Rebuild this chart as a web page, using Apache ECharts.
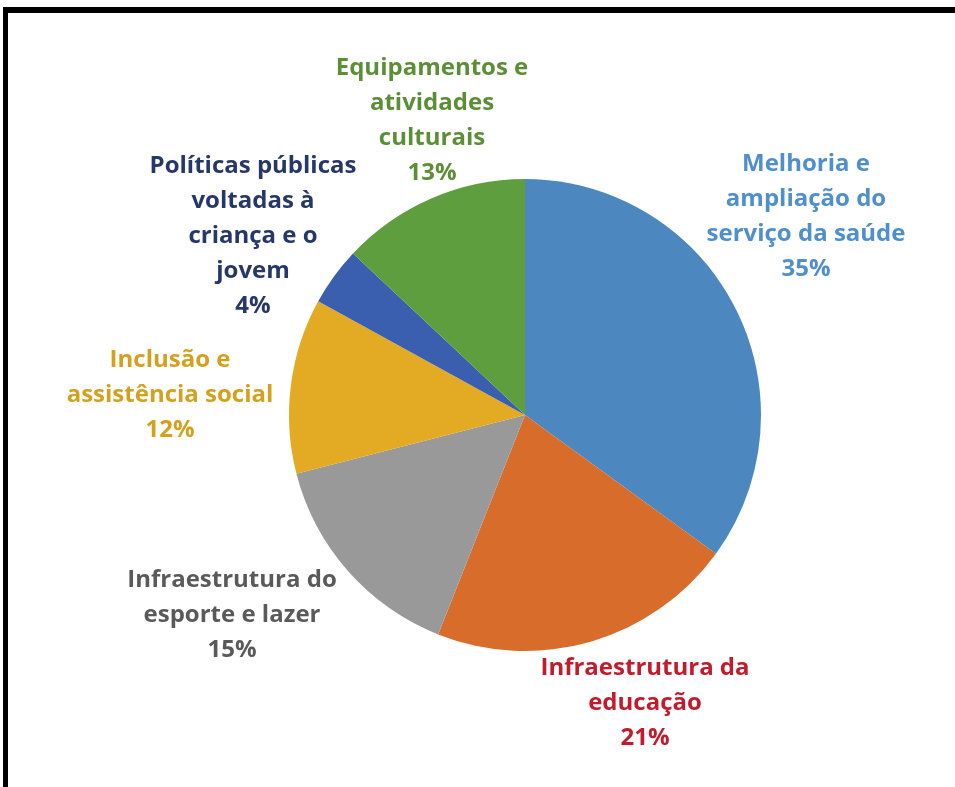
<!DOCTYPE html>
<html>
<head>
<meta charset="utf-8">
<script src="https://cdn.jsdelivr.net/npm/echarts@6/dist/echarts.min.js"></script>
<style>html,body{margin:0;padding:0;background:#fff;}#c{width:955px;height:787px;}</style>
</head>
<body>
<div id="c"></div>
<script>
const categories = [
  'Melhoria e\nampliação do\nserviço da saúde',
  'Infraestrutura da\neducação',
  'Infraestrutura do\nesporte e lazer',
  'Inclusão e\nassistência social',
  'Políticas públicas\nvoltadas à\ncriança e o\njovem',
  'Equipamentos e\natividades\nculturais'
];
const values = [35, 21, 15, 12, 4, 13];
const sliceColors = ['#4d87c0', '#d86c2a', '#999999', '#e3aa24', '#3a5fae', '#5f9e3e'];
const labelColors = ['#4f8fcc', '#c41a2c', '#5a5a5a', '#d4a11e', '#26386a', '#5b8f36'];
const labelPos = [[806, 217], [645, 703], [232, 615], [170, 395], [253, 236], [432, 121]];

const chart = echarts.init(document.getElementById('c'));
chart.setOption({
  animation: false,
  backgroundColor: '#fff',
  graphic: [
    { type: 'rect', shape: { x: 3, y: 7, width: 960, height: 6 }, style: { fill: '#000' } },
    { type: 'rect', shape: { x: 3, y: 7, width: 5, height: 800 }, style: { fill: '#000' } }
  ],
  series: [{
    type: 'pie',
    center: [525, 415],
    radius: 236,
    startAngle: 90,
    clockwise: true,
    data: categories.map((c, i) => ({
      name: c, value: values[i],
      itemStyle: { color: sliceColors[i] },
      label: { color: labelColors[i] }
    })),
    itemStyle: { borderColor: '#fff', borderWidth: 0 },
    label: {
      show: true,
      position: 'outside',
      formatter: p => p.name + '\n' + p.value + '%',
      fontFamily: 'Open Sans',
      fontWeight: 'bold',
      fontSize: 24,
      lineHeight: 35,
      align: 'center',
      overflow: 'none',
      width: 400
    },
    labelLine: { show: false },
    labelLayout: p => ({
      x: labelPos[p.dataIndex][0],
      y: labelPos[p.dataIndex][1],
      align: 'center',
      verticalAlign: 'middle'
    })
  }]
});
</script>
</body>
</html>
